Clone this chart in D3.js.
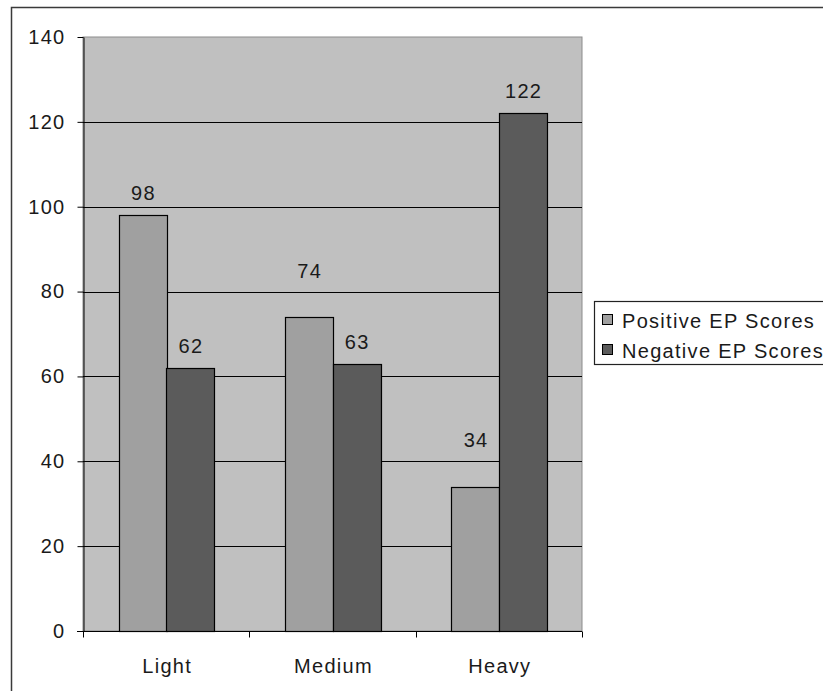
<!DOCTYPE html>
<html>
<head>
<meta charset="utf-8">
<script src="https://cdn.jsdelivr.net/npm/d3@7"></script>
<style>
  html, body { margin: 0; padding: 0; background: #fff; }
  svg { display: block; font-family: "Liberation Sans", Arial, sans-serif; }
</style>
</head>
<body>
<svg id="chart" width="823" height="691"></svg>
<script>
// Usage groups along the x axis
const categories = ["Light", "Medium", "Heavy"];
// Series names and their values per group
const seriesNames = ["Positive EP Scores", "Negative EP Scores"];
const positiveScores = [98, 74, 34];
const negativeScores = [62, 63, 122];
// Value axis ticks
const yTicks = [0, 20, 40, 60, 80, 100, 120, 140];

const seriesValues = [positiveScores, negativeScores];
const seriesColors = ["#a0a0a0", "#5b5b5b"];
const textColor = "#1a1a1a";
const fontSize = 20;
const spacing = 1.3;

const svg = d3.select("#chart");
const plot = { left: 83, top: 37, right: 582, bottom: 631 };

// Outer chart frame (runs off the right and bottom edges)
svg.append("rect")
  .attr("x", 11.5).attr("y", 7.5)
  .attr("width", 900).attr("height", 900)
  .attr("fill", "#fff").attr("stroke", "#3a3a3a").attr("stroke-width", 1.5);

const x = d3.scaleBand().domain(categories).range([plot.left, plot.right]).padding(0);
const inner = d3.scaleBand().domain(d3.range(seriesNames.length))
  .range([0, x.bandwidth()]).paddingInner(0).paddingOuter(0.75);
const y = d3.scaleLinear().domain([0, 140]).range([plot.bottom, plot.top]);

// Plot area background
svg.append("rect")
  .attr("x", plot.left).attr("y", plot.top)
  .attr("width", plot.right - plot.left).attr("height", plot.bottom - plot.top)
  .attr("fill", "#c0c0c0").attr("stroke", "#8c8c8c").attr("stroke-width", 1);

// Horizontal gridlines
svg.append("g").selectAll("line")
  .data(yTicks.filter(t => t > 0 && t < 140))
  .join("line")
  .attr("x1", plot.left).attr("x2", plot.right)
  .attr("y1", d => Math.round(y(d)) + 0.5).attr("y2", d => Math.round(y(d)) + 0.5)
  .attr("stroke", "#000").attr("stroke-width", 1);

// Bars
const barData = [];
categories.forEach((c, ci) => {
  seriesValues.forEach((vals, si) => barData.push({ cat: c, s: si, v: vals[ci] }));
});

svg.append("g").selectAll("rect")
  .data(barData)
  .join("rect")
  .attr("x", d => Math.round(x(d.cat) + inner(d.s)) + 0.5)
  .attr("y", d => Math.round(y(d.v)) + 0.5)
  .attr("width", Math.round(inner.bandwidth()))
  .attr("height", d => Math.round(y(0)) - Math.round(y(d.v)))
  .attr("fill", d => seriesColors[d.s])
  .attr("stroke", "#000").attr("stroke-width", 1.2);

// Y axis
const yAxis = svg.append("g")
  .attr("transform", `translate(${plot.left + 0.5},0)`)
  .call(d3.axisLeft(y).tickValues(yTicks).tickSize(6).tickSizeOuter(0).tickPadding(12));
yAxis.select(".domain").attr("stroke", "#000");
yAxis.selectAll(".tick line").attr("stroke", "#000");
yAxis.selectAll("text").attr("font-size", fontSize).attr("fill", textColor)
  .attr("letter-spacing", spacing)
  .attr("font-family", "'Liberation Sans', Arial, sans-serif");

// X axis with ticks at the group boundaries
const xAxisG = svg.append("g").attr("transform", `translate(0,${plot.bottom + 0.5})`);
xAxisG.append("line")
  .attr("x1", plot.left - 6).attr("x2", plot.right)
  .attr("stroke", "#000");
const boundaries = categories.map(c => x(c)).concat([x(categories[categories.length - 1]) + x.bandwidth()]);
xAxisG.selectAll("line.tk")
  .data(boundaries)
  .join("line").attr("class", "tk")
  .attr("x1", d => Math.round(d) + 0.5).attr("x2", d => Math.round(d) + 0.5)
  .attr("y1", 0).attr("y2", 6)
  .attr("stroke", "#000");
xAxisG.selectAll("text")
  .data(categories)
  .join("text")
  .attr("x", d => x(d) + x.bandwidth() / 2 + 1)
  .attr("y", 41)
  .attr("text-anchor", "middle")
  .attr("font-size", fontSize).attr("letter-spacing", spacing).attr("fill", textColor)
  .text(d => d);

// Value labels: sit above the bar; if a gridline would cut through, lift above that gridline
const capH = 15;
function labelBaseline(v) {
  let base = y(v) - 15;
  yTicks.forEach(t => {
    const gy = y(t);
    if (t > 0 && t < 140 && gy > base - capH - 1 && gy < base + 2) base = Math.min(base, gy - 14);
  });
  return base;
}
svg.append("g").selectAll("text")
  .data(barData)
  .join("text")
  .attr("x", d => x(d.cat) + inner(d.s) + inner.bandwidth() / 2 + 1)
  .attr("y", d => labelBaseline(d.v))
  .attr("text-anchor", "middle")
  .attr("font-size", fontSize).attr("letter-spacing", spacing).attr("fill", textColor)
  .text(d => d.v);

// Legend
const legend = svg.append("g");
legend.append("rect")
  .attr("x", 594.5).attr("y", 301.5).attr("width", 260).attr("height", 63)
  .attr("fill", "#fff").attr("stroke", "#222").attr("stroke-width", 1.2);
const rows = legend.selectAll("g.row")
  .data(seriesNames)
  .join("g").attr("class", "row")
  .attr("transform", (d, i) => `translate(0,${320 + i * 30})`);
rows.append("rect")
  .attr("x", 602.5).attr("y", -5.5).attr("width", 10).attr("height", 10)
  .attr("fill", (d, i) => seriesColors[i]).attr("stroke", "#000");
rows.append("text")
  .attr("x", 622).attr("y", 7.5)
  .attr("font-size", fontSize).attr("letter-spacing", spacing).attr("fill", textColor)
  .text(d => d);
</script>
</body>
</html>
